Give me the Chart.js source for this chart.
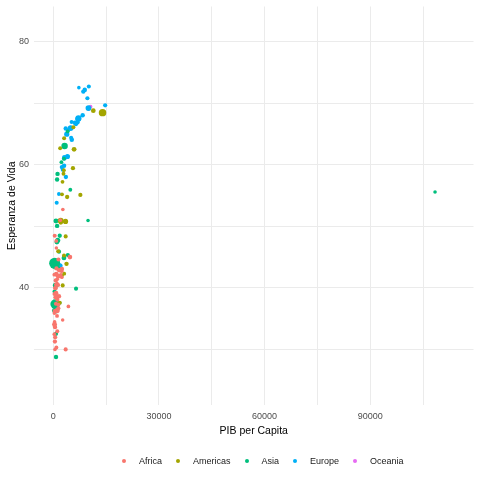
<!DOCTYPE html>
<html lang="es">
<head>
    <meta charset="UTF-8">
    <title>PIB per Capita vs Esperanza de Vida</title>
    <style>
        body { margin: 0; background: #fff; }
        #wrap { position: relative; width: 480px; height: 480px; }
        #legend {
            position: absolute; left: 122px; top: 456px;
            display: flex; align-items: center;
            font-family: "Liberation Sans", Arial, sans-serif; font-size: 9px; color: #1a1a1a;
        }
        .item { display: flex; align-items: center; margin-right: 14px; }
        .dot { width: 4px; height: 4px; border-radius: 50%; margin-right: 13px; }
    </style>
</head>
<body>
<div id="wrap">
    <canvas id="scatter" width="480" height="480"></canvas>
    <div id="legend"></div>
</div>

<script src="https://cdn.jsdelivr.net/npm/chart.js"></script>

<script>
    // gapminder 1952: [gdpPercap, lifeExp, pop in millions]
    const africa = [[2449,43.08,9.28],[3521,30.02,4.23],[1063,38.22,1.74],[851,47.62,0.44],[543,31.98,4.47],
        [339,39.03,2.45],[1173,38.52,5.01],[1071,35.46,1.29],[1179,38.09,2.68],[1103,40.72,0.15],
        [781,39.14,14.10],[2126,42.11,0.85],[1389,40.48,2.98],[2670,34.81,0.06],[1419,41.89,22.22],
        [376,34.48,0.22],[329,35.93,1.44],[362,34.08,20.86],[4293,37.00,0.42],[485,30.00,0.28],
        [911,43.15,5.58],[510,33.61,2.66],[300,32.50,0.58],[854,42.27,6.46],[299,42.14,0.75],
        [576,38.48,0.86],[2388,42.72,1.02],[1443,36.68,4.76],[369,36.26,2.92],[452,33.69,3.84],
        [743,40.54,1.02],[1968,50.99,0.52],[1688,42.87,9.94],[469,31.29,6.45],[2424,41.73,0.49],
        [762,37.44,3.38],[1077,36.32,33.12],[2719,52.72,0.26],[493,40.00,2.53],[880,46.47,0.06],
        [1450,37.28,2.76],[880,30.33,2.14],[1136,32.98,2.53],[4725,45.01,14.26],[1616,38.64,8.50],
        [1148,41.41,0.29],[717,41.22,8.32],[860,38.60,1.22],[1468,44.60,3.65],[735,39.98,5.82],
        [1147,42.04,2.67],[407,48.45,3.08]];
    const americas = [[5911,62.49,17.88],[2677,40.41,2.88],[2109,50.92,56.60],[11367,68.75,14.79],[3940,54.75,6.38],
        [2144,50.64,12.35],[2627,57.21,0.93],[5587,59.42,6.01],[1398,45.93,2.49],[3522,48.36,3.55],
        [3048,45.26,2.04],[2428,42.02,3.15],[1840,37.58,3.20],[2195,41.91,1.52],[2899,58.53,1.43],
        [3478,50.79,30.14],[3112,42.31,1.17],[2480,55.19,0.94],[1952,62.65,1.56],[3759,43.90,8.03],
        [3082,64.28,2.23],[3023,59.10,0.66],[13990,68.44,157.55],[5717,66.07,2.25],[7690,55.09,5.44]];
    const asia = [[779,28.80,8.43],[9867,50.94,0.12],[684,37.48,46.89],[368,39.42,4.69],[400,44.00,556.26],
        [3054,60.96,2.13],[547,37.37,372.00],[750,37.47,82.05],[3035,44.87,17.27],[4130,45.32,5.44],
        [4087,65.39,1.62],[3217,63.03,86.46],[1547,43.16,0.61],[1088,50.06,8.87],[1031,47.45,20.95],
        [108382,55.57,0.16],[4835,55.93,1.44],[1831,48.46,6.75],[787,42.24,0.80],[331,36.32,20.09],
        [546,36.16,9.18],[1828,37.58,0.51],[685,43.44,41.35],[1273,47.75,22.44],[6460,39.88,4.01],
        [2315,60.40,1.13],[1084,57.59,7.98],[1643,45.88,3.66],[1207,58.50,8.55],[758,50.85,21.29],
        [605,40.41,26.25],[1516,43.16,1.03],[782,32.55,4.96]];
    const europe = [[1601,55.23,1.28],[6137,66.80,6.93],[8343,68.00,8.73],[974,53.82,2.79],[2444,59.60,7.27],
        [3119,61.21,3.88],[6876,66.87,9.13],[9692,70.78,4.33],[6425,66.55,4.09],[7030,67.41,42.46],
        [7144,67.50,69.15],[3531,65.86,7.73],[5264,64.03,9.50],[7268,72.49,0.15],[5210,66.91,2.95],
        [4931,65.94,47.67],[2648,59.16,0.41],[8942,72.13,10.38],[10095,72.67,3.33],[4029,61.31,25.73],
        [3068,59.82,8.53],[3145,61.05,16.63],[3581,58.00,6.86],[5075,64.36,3.56],[4215,65.57,1.49],
        [3834,64.94,28.55],[8528,71.86,7.12],[14734,69.62,4.82],[1969,43.59,22.24],[9980,69.18,50.43]];
    const oceania = [[10040,69.12,8.69],[10557,69.39,1.99]];

    const continents = ["Africa", "Americas", "Asia", "Europe", "Oceania"];
    const colors = ["#F8766D", "#A3A500", "#00BF7D", "#00B0F6", "#E76BF3"];
    const series = [africa, americas, asia, europe, oceania];

    // grid lines and which of them get a label
    const xGrid = [0, 15000, 30000, 45000, 60000, 75000, 90000, 105000];
    const xLabels = [0, 30000, 60000, 90000];
    const yGrid = [30, 40, 50, 60, 70, 80];
    const yLabels = [40, 60, 80];

    // size scale like ggplot: area proportional to population
    const allPop = series.flat().map(r => r[2]);
    const popMin = Math.min(...allPop);
    const popMax = Math.max(...allPop);
    function radiusFor(pop) {
        const size = 1 + 5 * Math.sqrt((pop - popMin) / (popMax - popMin));
        return 1.0 + 0.75 * size;
    }

    const datasets = series.map((rows, i) => ({
        label: continents[i],
        data: rows.map(r => ({x: r[0], y: r[1], pop: r[2]})),
        backgroundColor: colors[i],
        borderWidth: 0,
        pointRadius: ctx => ctx.raw ? radiusFor(ctx.raw.pop) : 2,
        pointHoverRadius: ctx => ctx.raw ? radiusFor(ctx.raw.pop) + 1 : 3
    }));

    const font = {family: '"Liberation Sans", Arial, sans-serif'};

    new Chart(document.getElementById('scatter'), {
        type: 'scatter',
        data: {datasets: datasets},
        options: {
            responsive: false,
            animation: false,
            layout: {padding: {left: 0, right: 6, top: 5, bottom: 35}},
            plugins: {
                legend: {display: false},
                tooltip: {enabled: true}
            },
            scales: {
                x: {
                    type: 'linear',
                    min: -5470,
                    max: 119300,
                    afterBuildTicks: scale => { scale.ticks = xGrid.map(v => ({value: v})); },
                    afterFit: scale => { scale.height = 40; scale.paddingLeft = 0; scale.paddingRight = 0; },
                    grid: {color: '#EBEBEB', lineWidth: 1, drawTicks: false},
                    border: {display: false},
                    ticks: {
                        autoSkip: false,
                        maxRotation: 0,
                        padding: 6,
                        color: '#4D4D4D',
                        font: {...font, size: 9},
                        callback: v => xLabels.includes(v) ? String(v) : ''
                    },
                    title: {
                        display: true,
                        text: 'PIB per Capita',
                        color: '#000',
                        font: {...font, size: 10.5},
                        padding: {top: 0, bottom: 8}
                    }
                },
                y: {
                    type: 'linear',
                    min: 21,
                    max: 85.66,
                    afterBuildTicks: scale => { scale.ticks = yGrid.map(v => ({value: v})); },
                    afterFit: scale => { scale.width = 34; scale.paddingTop = 0; scale.paddingBottom = 0; },
                    grid: {color: '#EBEBEB', lineWidth: 1, drawTicks: false},
                    border: {display: false},
                    ticks: {
                        padding: 5,
                        color: '#4D4D4D',
                        font: {...font, size: 9},
                        callback: v => yLabels.includes(v) ? String(v) : ''
                    },
                    title: {
                        display: true,
                        text: 'Esperanza de Vida',
                        color: '#000',
                        font: {...font, size: 10.5},
                        padding: {top: 6, bottom: 0}
                    }
                }
            }
        }
    });

    // legend built from the same names and colours
    const legend = document.getElementById('legend');
    continents.forEach((name, i) => {
        const item = document.createElement('div');
        item.className = 'item';
        const dot = document.createElement('span');
        dot.className = 'dot';
        dot.style.background = colors[i];
        item.appendChild(dot);
        item.appendChild(document.createTextNode(name));
        legend.appendChild(item);
    });
</script>

</body>
</html>
